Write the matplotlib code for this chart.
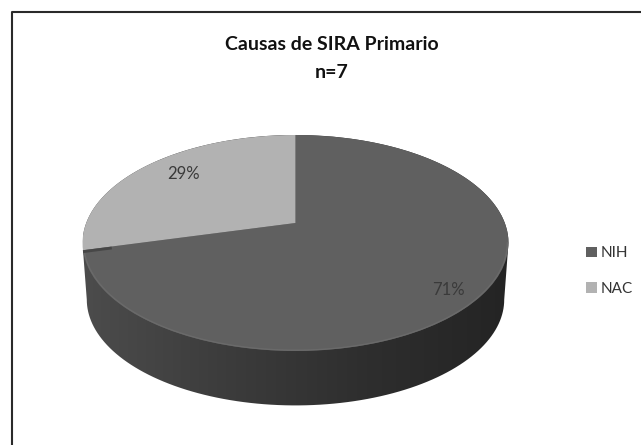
import numpy as np
import matplotlib
matplotlib.use("Agg")
import matplotlib.pyplot as plt
from matplotlib.colors import LinearSegmentedColormap
from matplotlib.patches import Polygon
from matplotlib.transforms import Transform

# Data
categorias = ["NIH", "NAC"]
valores = [71, 29]
colores = ["#606060", "#b2b2b2"]
titulo = "Causas de SIRA Primario"
subtitulo = "n=7"

plt.rcParams["font.family"] = ["Lato", "DejaVu Sans"]


# pie lying on its side: unit circle -> pixels, with a bit of perspective
class Perspectiva(Transform):
    input_dims = 2
    output_dims = 2
    is_separable = False
    has_inverse = False

    def __init__(self, dy=0, escala=1.0):
        super().__init__()
        self.dy = dy
        self.escala = escala

    def transform_non_affine(self, xy):
        xy = np.asarray(xy)
        w = 1 + 0.185 * xy[:, 1]
        x = 295.5 + self.escala * 209.3 * xy[:, 0] / w
        y = 223 + self.dy - self.escala * 104.3 * xy[:, 1] / w
        return np.column_stack([x, y])


fig = plt.figure(figsize=(6.41, 4.45), dpi=100)
ax = fig.add_axes([0, 0, 1, 1])

wedges, textos, pct = ax.pie(valores, startangle=90, counterclock=False,
                             colors=colores, autopct="%.0f%%")
top = Perspectiva()
for w in wedges:
    w.set_transform(top + ax.transData)
    w.set_linewidth(0)
    w.set_zorder(3)

# side wall of the cake, dark to the right
base = Perspectiva(dy=57, escala=0.98)
giro = np.arcsin(0.185)
ang = np.radians(90 + valores[1] * 3.6)
t1 = np.linspace(-giro, ang, 100)
t2 = np.linspace(np.pi + giro, 2 * np.pi - giro, 100)
borde = np.vstack([top.transform(np.column_stack([np.cos(t1), np.sin(t1)])),
                   base.transform(np.column_stack([np.cos(t2), np.sin(t2)]))])
pared = Polygon(borde, closed=True, fill=False, linewidth=0, transform=ax.transData)
ax.add_patch(pared)
cmap = LinearSegmentedColormap.from_list("pared", ["#4c4c4c", "#3c3c3c", "#2e2e2e", "#242424"])
img = ax.imshow(np.linspace(0, 1, 256).reshape(1, -1), cmap=cmap, aspect="auto",
                extent=(83, 510, 406, 135), zorder=2)
img.set_clip_path(pared)

# lighter rim along the front of the top
t3 = np.linspace(ang + 0.02, 2 * np.pi - giro, 100)
rim = top.transform(np.column_stack([0.995 * np.cos(t3), 0.995 * np.sin(t3)]))
ax.plot(rim[:, 0], rim[:, 1], color="#6a6a6a", lw=1, zorder=3.5)

# small dark cut under the NAC slice
r = np.linspace(0.87, 1.0, 10)
corte = top.transform(np.column_stack([r * np.cos(ang), r * np.sin(ang)]))
ax.plot(corte[:, 0], corte[:, 1] + 1.5, color="#474747", lw=2, zorder=4, solid_capstyle="butt")

pct[0].set_position((448, 290))
pct[1].set_position((184, 174))
for p in pct:
    p.set_fontsize(12)
    p.set_color("#3a3a3a")
    p.set_ha("center")
    p.set_va("center")
    p.set_zorder(5)

ax.text(332, 45, titulo, ha="center", va="center", fontsize=14,
        fontweight="bold", color="#111111")
ax.text(332, 72, subtitulo, ha="center", va="center", fontsize=14,
        fontweight="bold", color="#111111")

ax.legend(wedges, categorias, loc="center left", bbox_to_anchor=(0.914, 0.391),
          frameon=False, fontsize=11, handlelength=0.7, handleheight=0.7,
          handletextpad=0.25, labelspacing=1.4, labelcolor="#333333",
          borderpad=0, borderaxespad=0)

# chart frame, cut by the scan on the right and at the bottom
ax.plot([12, 12, 641], [445, 12, 12], color="#2a2a2a", lw=1.5, zorder=6)

ax.set_xlim(0, 641)
ax.set_ylim(445, 0)
ax.set_aspect("auto")
ax.axis("off")
fig.savefig("out.png", dpi=100, facecolor="white")
